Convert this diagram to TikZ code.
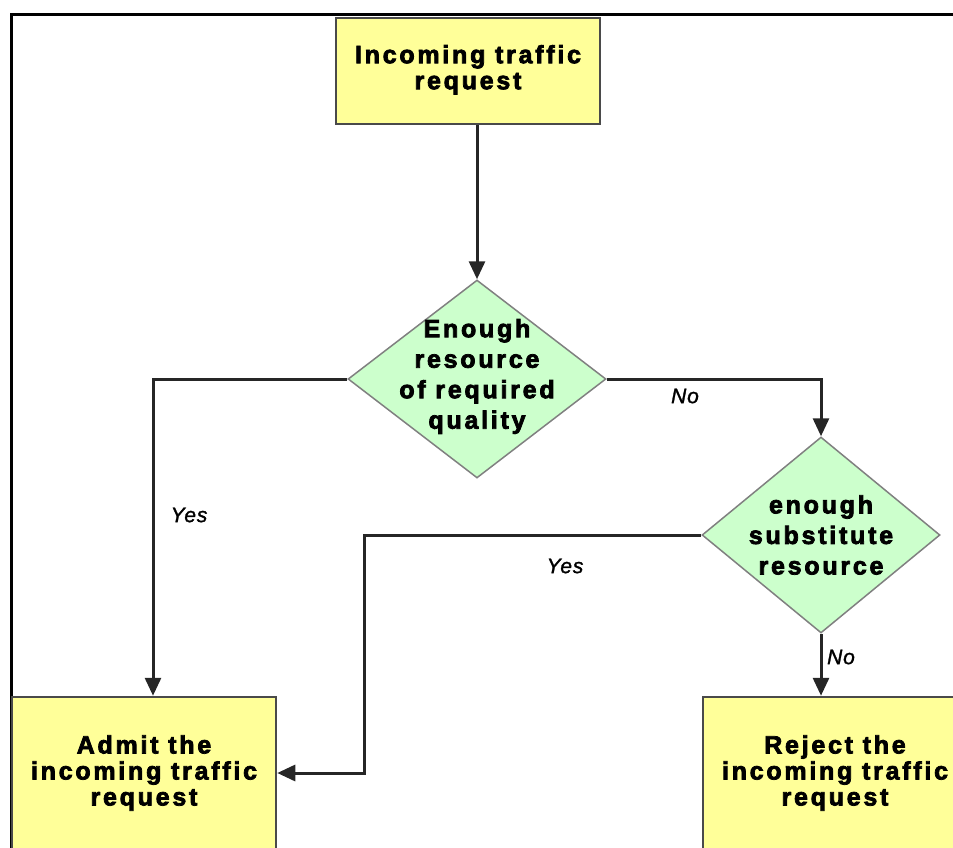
\documentclass[tikz,border=0pt]{standalone}
\usepackage{fontspec}
\setmainfont{Liberation Sans}[LetterSpace=11, BoldFeatures={FakeBold=3}]
\newfontfamily\labelfont{Liberation Sans}[LetterSpace=4, ItalicFeatures={FakeBold=1.5}]
\usetikzlibrary{shapes.geometric,arrows.meta}
\definecolor{boxyellow}{HTML}{FFFF99}
\definecolor{boxgreen}{HTML}{CCFFCC}
\definecolor{edgegray}{HTML}{4A4A4A}
\definecolor{diaedge}{HTML}{808080}
\definecolor{linegray}{HTML}{262626}
\tikzset{
  process/.style={rectangle, draw=edgegray, line width=2.5pt, fill=boxyellow,
    minimum width=264pt, inner sep=0pt, align=center,
    font=\fontsize{25}{26}\selectfont\bfseries},
  decision/.style={diamond, draw=diaedge, line width=1.5pt, fill=boxgreen,
    inner sep=0pt},
  dtext/.style={align=center, inner sep=0pt,
    font=\fontsize{25}{30.5}\selectfont\bfseries},
  conn/.style={draw=linegray, line width=3pt,
    -{Triangle[length=18pt,width=16pt]}},
  answer/.style={inner sep=0pt, font=\labelfont\fontsize{21}{22}\selectfont\itshape},
}
\begin{document}
\begin{tikzpicture}[x=1pt,y=-1pt]
  \useasboundingbox (0,0) rectangle (953,848);

  % outer frame (top and left edges)
  \draw[line width=3pt] (11,850) -- (11,15) -- (955,15);

  % boxes
  \node[process, minimum height=106pt] (top) at (468,71)
    {\raisebox{4pt}{\begin{tabular}{@{}c@{}}Incoming traffic\\request\end{tabular}}};
  \node[process, minimum height=152pt] (admit) at (144,773)
    {Admit the\\incoming traffic\\request};
  \node[process, minimum height=152pt] (reject) at (835,773)
    {Reject the\\incoming traffic\\request};

  % decisions
  \node[decision, minimum width=258pt, minimum height=198pt] (d1) at (477,379) {};
  \node[dtext] (d1t) at (477,376.5) {Enough\\resource\\of required\\quality};
  \node[decision, minimum width=238pt, minimum height=196pt] (d2) at (821,535) {};
  \node[dtext] (d2t) at (d2) {enough\\substitute\\resource};

  % bend points
  \coordinate (yesbend) at (153,379);
  \coordinate (subbend) at (364,535);

  % connectors
  \draw[conn] (top.south -| d1.north) -- (d1.north);
  \draw[conn] (d1.west) -- (yesbend) -- (yesbend |- admit.north);
  \draw[conn] (d1.east) -| (d2.north);
  \draw[conn] (d2.west) -- (subbend) |- (admit.east);
  \draw[conn] (d2.south) -- (d2.south |- reject.north);

  % answers
  \node[answer] (yes1) at (189,515) {Yes};
  \node[answer] (no1) at (685,396) {No};
  \node[answer] (yes2) at (565,566) {Yes};
  \node[answer] (no2) at (841,657) {No};
\end{tikzpicture}
\end{document}
